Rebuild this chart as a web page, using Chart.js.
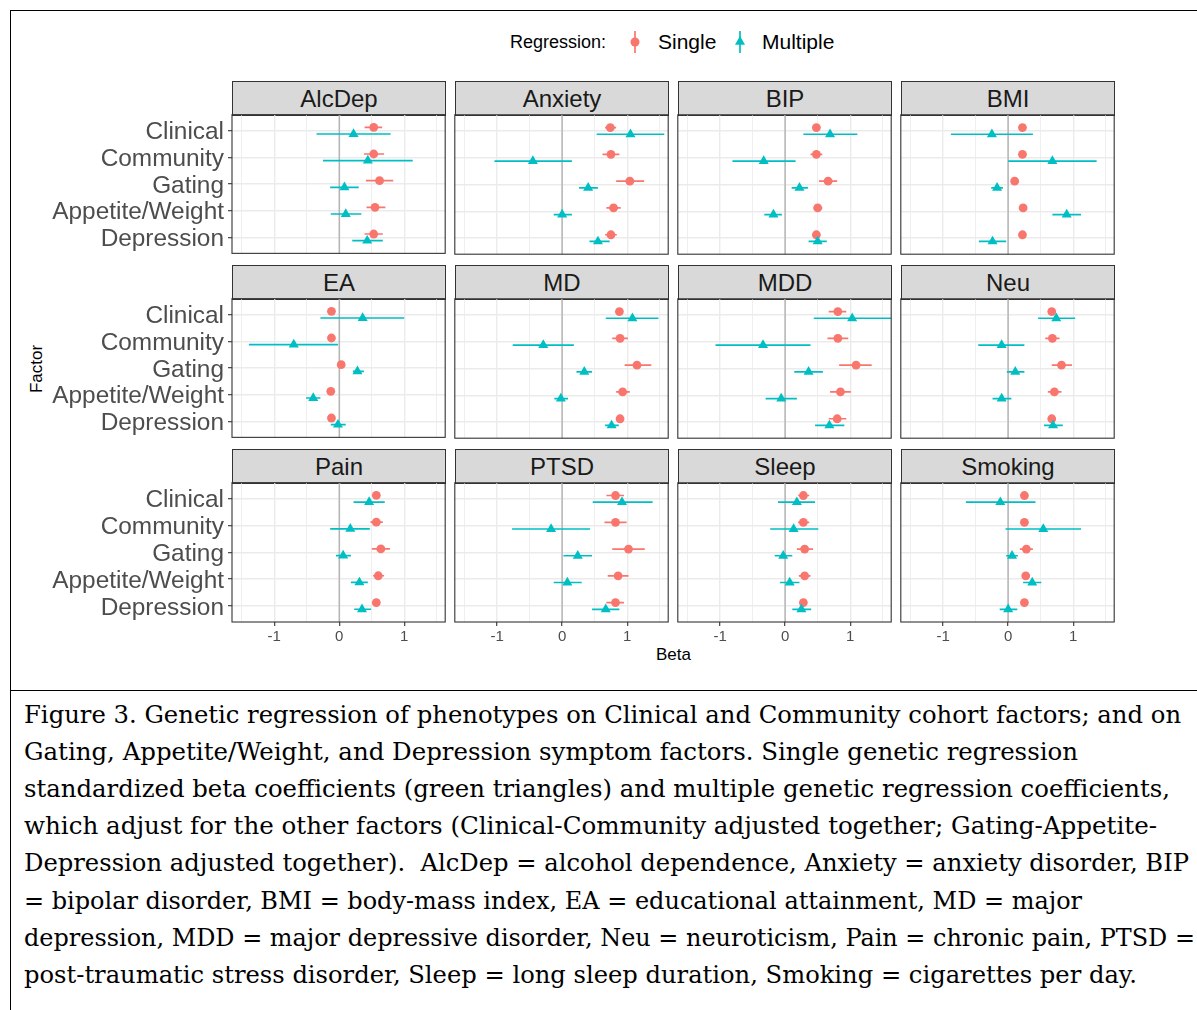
<!DOCTYPE html>
<html>
<head>
<meta charset="utf-8">
<script src="https://cdn.jsdelivr.net/npm/chart.js@4.4.1/dist/chart.umd.min.js"></script>
<style>
  html, body { margin: 0; padding: 0; background: #fff; }
  body { width: 1197px; height: 1010px; position: relative; overflow: hidden; font-family: "Liberation Sans", Arial, sans-serif; }
  .frame { position: absolute; left: 10px; top: 10px; width: 1200px; height: 1010px; border-top: 1.5px solid #000; border-left: 1.5px solid #000; }
  .sep { position: absolute; left: 10px; top: 690px; width: 1190px; border-top: 1.5px solid #000; }
  .strip { position: absolute; height: 35px; background: #d9d9d9; border: 1.1px solid #333; box-sizing: border-box; color: #1a1a1a; font-size: 24px; text-align: center; line-height: 33px; }
  .panel { position: absolute; }
  .lab { position: absolute; color: #000; white-space: nowrap; }
  .cap { position: absolute; left: 24px; height: 37px; line-height: 37px; white-space: pre; font-family: "DejaVu Serif", serif; color: #000; transform-origin: 0 50%; }
</style>
</head>
<body>
<div class="frame"></div>
<div class="sep"></div>

<div class="lab" style="left:510px; top:31px; font-size:18px; line-height:22px;">Regression:</div>
<svg style="position:absolute; left:620px; top:28px;" width="30" height="28">
  <line x1="15" y1="3" x2="15" y2="25" stroke="#F8766D" stroke-width="1.7"/>
  <circle cx="15" cy="14" r="4.5" fill="#F8766D"/>
</svg>
<div class="lab" style="left:658px; top:29px; font-size:21px; line-height:25px;">Single</div>
<svg style="position:absolute; left:725px; top:28px;" width="30" height="28">
  <line x1="15" y1="3" x2="15" y2="25" stroke="#00BFC4" stroke-width="1.7"/>
  <polygon points="15,8 20,16.7 10,16.7" fill="#00BFC4"/>
</svg>
<div class="lab" style="left:762px; top:29px; font-size:21px; line-height:25px;">Multiple</div>

<div class="lab" style="left:656px; top:645px; font-size:17px; line-height:20px;">Beta</div>
<div class="lab" style="left:10px; top:359px; width:54px; text-align:center; font-size:17px; line-height:20px; transform:rotate(-90deg);">Factor</div>

<div id="grid"></div>
<div id="caption"></div>

<script>
// facet layout: 3 rows x 4 columns
var PHENOS = ['AlcDep', 'Anxiety', 'BIP', 'BMI', 'EA', 'MD', 'MDD', 'Neu', 'Pain', 'PTSD', 'Sleep', 'Smoking'];
var CATS = ['Clinical', 'Community', 'Gating', 'Appetite/Weight', 'Depression'];
var XTICKS = [-1.5, -1, -0.5, 0, 0.5, 1, 1.5];

// single genetic regression (red circles)
var SINGLE_BETA = [
  [0.53, 0.53, 0.62, 0.55, 0.53], [0.74, 0.75, 1.04, 0.79, 0.75], [0.48, 0.48, 0.66, 0.50, 0.48],
  [0.22, 0.22, 0.10, 0.23, 0.22], [-0.12, -0.12, 0.03, -0.13, -0.12], [0.88, 0.89, 1.15, 0.93, 0.89],
  [0.81, 0.81, 1.09, 0.85, 0.80], [0.67, 0.68, 0.82, 0.71, 0.67], [0.57, 0.57, 0.64, 0.60, 0.57],
  [0.82, 0.82, 1.02, 0.86, 0.82], [0.28, 0.28, 0.30, 0.30, 0.28], [0.25, 0.25, 0.28, 0.27, 0.25]
];
var SINGLE_LO = [
  [0.39, 0.38, 0.41, 0.42, 0.39], [0.66, 0.62, 0.83, 0.68, 0.66], [0.44, 0.39, 0.52, 0.44, 0.42],
  [0.20, 0.20, 0.08, 0.21, 0.20], [-0.14, -0.14, 0.01, -0.15, -0.14], [0.84, 0.77, 0.96, 0.83, 0.85],
  [0.67, 0.65, 0.83, 0.69, 0.67], [0.63, 0.57, 0.67, 0.61, 0.63], [0.53, 0.48, 0.50, 0.52, 0.53],
  [0.68, 0.65, 0.77, 0.70, 0.68], [0.20, 0.20, 0.18, 0.21, 0.24], [0.23, 0.23, 0.18, 0.25, 0.23]
];
var SINGLE_HI = [
  [0.66, 0.69, 0.83, 0.71, 0.67], [0.83, 0.88, 1.26, 0.90, 0.84], [0.52, 0.57, 0.80, 0.57, 0.54],
  [0.24, 0.24, 0.12, 0.25, 0.24], [-0.10, -0.10, 0.05, -0.11, -0.10], [0.92, 1.01, 1.37, 1.04, 0.93],
  [0.94, 0.97, 1.33, 1.01, 0.94], [0.71, 0.79, 0.98, 0.82, 0.71], [0.61, 0.67, 0.78, 0.69, 0.61],
  [0.95, 0.99, 1.27, 1.02, 0.95], [0.37, 0.37, 0.43, 0.39, 0.32], [0.27, 0.27, 0.38, 0.29, 0.27]
];

// multiple genetic regression (teal triangles)
var MULTI_BETA = [
  [0.22, 0.44, 0.08, 0.10, 0.43], [1.05, -0.45, 0.40, 0.00, 0.55], [0.69, -0.33, 0.22, -0.18, 0.50],
  [-0.25, 0.68, -0.17, 0.90, -0.24], [0.36, -0.70, 0.28, -0.40, -0.02], [1.08, -0.29, 0.34, -0.02, 0.76],
  [1.03, -0.34, 0.36, -0.06, 0.68], [0.74, -0.10, 0.11, -0.10, 0.69], [0.46, 0.17, 0.06, 0.31, 0.35],
  [0.92, -0.17, 0.24, 0.08, 0.67], [0.18, 0.13, -0.03, 0.07, 0.25], [-0.12, 0.54, 0.06, 0.37, 0.00]
];
var MULTI_LO = [
  [-0.35, -0.25, -0.14, -0.13, 0.20], [0.53, -1.04, 0.26, -0.13, 0.42], [0.28, -0.81, 0.10, -0.32, 0.36],
  [-0.88, 0.00, -0.26, 0.68, -0.45], [-0.29, -1.39, 0.21, -0.51, -0.13], [0.67, -0.76, 0.22, -0.12, 0.66],
  [0.44, -1.07, 0.14, -0.30, 0.46], [0.46, -0.46, -0.02, -0.24, 0.55], [0.22, -0.14, -0.05, 0.18, 0.23],
  [0.47, -0.77, 0.02, -0.13, 0.46], [-0.11, -0.23, -0.16, -0.08, 0.11], [-0.65, -0.04, -0.03, 0.23, -0.13]
];
var MULTI_HI = [
  [0.79, 1.13, 0.30, 0.34, 0.67], [1.57, 0.15, 0.55, 0.15, 0.73], [1.11, 0.16, 0.35, -0.05, 0.64],
  [0.38, 1.36, -0.08, 1.12, -0.03], [1.00, -0.02, 0.38, -0.29, 0.10], [1.48, 0.18, 0.46, 0.09, 0.87],
  [1.63, 0.39, 0.58, 0.18, 0.91], [1.03, 0.25, 0.25, 0.05, 0.84], [0.70, 0.47, 0.18, 0.44, 0.49],
  [1.39, 0.43, 0.46, 0.30, 0.88], [0.46, 0.51, 0.11, 0.22, 0.40], [0.42, 1.12, 0.15, 0.51, 0.14]
];

var CAPTION = [
  'Figure 3. Genetic regression of phenotypes on Clinical and Community cohort factors; and on',
  'Gating, Appetite/Weight, and Depression symptom factors. Single genetic regression',
  'standardized beta coefficients (green triangles) and multiple genetic regression coefficients,',
  'which adjust for the other factors (Clinical-Community adjusted together; Gating-Appetite-',
  'Depression adjusted together).  AlcDep = alcohol dependence, Anxiety = anxiety disorder, BIP',
  '= bipolar disorder, BMI = body-mass index, EA = educational attainment, MD = major',
  'depression, MDD = major depressive disorder, Neu = neuroticism, Pain = chronic pain, PTSD =',
  'post-traumatic stress disorder, Sleep = long sleep duration, Smoking = cigarettes per day.'
];
// right edge of each caption line in the figure
var CAPTION_RIGHT = [1181, 1078, 1170, 1157, 1189, 1082, 1195, 1137];

var RED = '#F8766D', TEAL = '#00BFC4';
var FONT = '"Liberation Sans", Arial, sans-serif';
var PANEL_W = 213, PANEL_H = 139, YLAB_W = 212, XLAB_H = 30, PAD = 2, DODGE = 0.125;

var panelBorder = {
  id: 'panelBorder',
  afterDraw: function (chart) {
    var a = chart.chartArea, ctx = chart.ctx;
    ctx.save();
    ctx.strokeStyle = '#333';
    ctx.lineWidth = 1.1;
    ctx.strokeRect(a.left, a.top, a.right - a.left, a.bottom - a.top);
    ctx.restore();
  }
};

function pointData(beta, off) {
  return beta.map(function (b, i) { return { x: b, y: i + 1 + off }; });
}

// each error bar is a 2-point segment; a null y breaks the line between bars
function errData(lo, hi, off) {
  var out = [];
  for (var i = 0; i < lo.length; i++) {
    out.push({ x: lo[i], y: i + 1 + off }, { x: hi[i], y: i + 1 + off }, { x: hi[i], y: null });
  }
  return out;
}

function isMajor(v) { return Math.abs(v - Math.round(v)) < 1e-9; }

function panelConfig(k, firstCol, lastRow) {
  return {
    type: 'scatter',
    data: {
      datasets: [
        { data: [{ x: 0, y: 0.4 }, { x: 0, y: 5.6 }], showLine: true, borderColor: '#b3b3b3', borderWidth: 1.4, pointRadius: 0, order: 10 },
        { data: errData(SINGLE_LO[k], SINGLE_HI[k], -DODGE), showLine: true, borderColor: RED, borderWidth: 1.7, pointRadius: 0, order: 4 },
        { data: pointData(SINGLE_BETA[k], -DODGE), pointStyle: 'circle', pointRadius: 4.4, backgroundColor: RED, borderWidth: 0, order: 3 },
        { data: errData(MULTI_LO[k], MULTI_HI[k], DODGE), showLine: true, borderColor: TEAL, borderWidth: 1.7, pointRadius: 0, order: 2 },
        { data: pointData(MULTI_BETA[k], DODGE), pointStyle: 'triangle', pointRadius: 5.8, backgroundColor: TEAL, borderWidth: 0, order: 1 }
      ]
    },
    options: {
      responsive: false,
      animation: false,
      events: [],
      layout: { padding: PAD },
      plugins: { legend: { display: false }, tooltip: { enabled: false } },
      scales: {
        x: {
          type: 'linear', min: -1.65, max: 1.63,
          afterBuildTicks: function (s) { s.ticks = XTICKS.map(function (v) { return { value: v }; }); },
          afterFit: function (s) { s.height = lastRow ? XLAB_H : 0; },
          ticks: {
            display: lastRow, autoSkip: false, maxRotation: 0, padding: 2, color: '#4d4d4d',
            font: { family: FONT, size: 15 },
            callback: function (v) { return isMajor(v) ? String(v) : ''; }
          },
          grid: {
            color: '#ebebeb',
            lineWidth: function (ctx) { return ctx.tick && isMajor(ctx.tick.value) ? 1.4 : 0.8; },
            drawTicks: lastRow, tickLength: 4, tickWidth: 1.1,
            tickColor: function (ctx) { return ctx.tick && isMajor(ctx.tick.value) ? '#333' : 'rgba(0,0,0,0)'; }
          },
          border: { display: false }
        },
        y: {
          type: 'linear', reverse: true, min: 0.4, max: 5.6,
          afterBuildTicks: function (s) { s.ticks = CATS.map(function (n, i) { return { value: i + 1 }; }); },
          afterFit: function (s) { s.width = firstCol ? YLAB_W : 0; },
          ticks: {
            display: firstCol, autoSkip: false, padding: 4, labelOffset: 2, color: '#4d4d4d',
            font: { family: FONT, size: 24.4 },
            callback: function (v, i) { return CATS[i]; }
          },
          grid: { color: '#ebebeb', lineWidth: 1.4, drawTicks: firstCol, tickLength: 4, tickWidth: 1.1, tickColor: '#333' },
          border: { display: false }
        }
      }
    },
    plugins: [panelBorder]
  };
}

function makePanel(k) {
  var r = Math.floor(k / 4), c = k % 4;
  var left = 232 + 223 * c, top = 115 + 184 * r;
  var firstCol = c === 0, lastRow = r === 2;
  var host = document.getElementById('grid');

  var strip = document.createElement('div');
  strip.className = 'strip';
  strip.style.left = left + 'px';
  strip.style.top = (top - 34) + 'px';
  strip.style.width = (PANEL_W + 1) + 'px';
  strip.textContent = PHENOS[k];
  host.appendChild(strip);

  var wrap = document.createElement('div');
  wrap.className = 'panel';
  host.appendChild(wrap);

  function build(w, h) {
    wrap.innerHTML = '';
    var canvas = document.createElement('canvas');
    canvas.width = w;
    canvas.height = h;
    wrap.appendChild(canvas);
    return new Chart(canvas.getContext('2d'), panelConfig(k, firstCol, lastRow));
  }

  var cw = PANEL_W + 2 * PAD + (firstCol ? YLAB_W : 0);
  var ch = PANEL_H + 2 * PAD + (lastRow ? XLAB_H : 0);
  var chart = build(cw, ch);
  var a = chart.chartArea;
  // grow the canvas by whatever the layout took for label padding, so the plot area is exactly the panel size
  var dw = Math.round(PANEL_W - (a.right - a.left)), dh = Math.round(PANEL_H - (a.bottom - a.top));
  if (dw !== 0 || dh !== 0) {
    chart.destroy();
    chart = build(cw + dw, ch + dh);
    a = chart.chartArea;
  }
  wrap.style.left = (left - a.left) + 'px';
  wrap.style.top = (top - a.top) + 'px';
}

for (var k = 0; k < PHENOS.length; k++) makePanel(k);

// caption: serif face, each line stretched to the width it has in the figure
var mctx = document.createElement('canvas').getContext('2d');
mctx.font = '100px "DejaVu Serif"';
var capSize = 100 * (CAPTION_RIGHT[0] - 24) / mctx.measureText(CAPTION[0]).width;
mctx.font = capSize + 'px "DejaVu Serif"';
CAPTION.forEach(function (line, i) {
  var d = document.createElement('div');
  d.className = 'cap';
  d.style.top = (696 + 37.1 * i) + 'px';
  d.style.fontSize = capSize.toFixed(2) + 'px';
  d.style.transform = 'scaleX(' + ((CAPTION_RIGHT[i] - 24) / mctx.measureText(line).width).toFixed(4) + ')';
  d.textContent = line;
  document.getElementById('caption').appendChild(d);
});
</script>
</body>
</html>
